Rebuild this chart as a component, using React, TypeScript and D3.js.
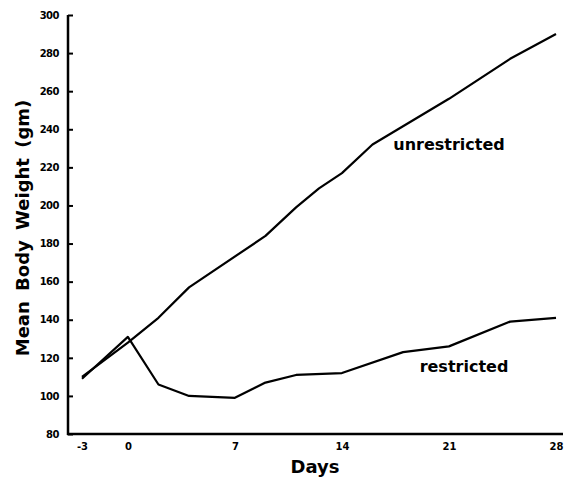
import React, { useEffect, useRef } from 'react'
import * as d3 from 'd3'

// values
const unrestrictedDays = [-3, 0, 2, 4, 9, 11, 12.5, 14, 16, 21, 25, 28]
const unrestrictedWeight = [110, 128, 141, 157, 184, 199, 209, 217, 232, 256, 277, 290]
const restrictedDays = [-3, 0, 2, 4, 7, 9, 11, 14, 18, 21, 25, 28]
const restrictedWeight = [109, 131, 106, 100, 99, 107, 111, 112, 123, 126, 139, 141]
const xTicks = [-3, 0, 7, 14, 21, 28]
const yTicks = [80, 100, 120, 140, 160, 180, 200, 220, 240, 260, 280, 300]

const W = 564
const H = 480
const font = '"DejaVu Sans", sans-serif'

export default function App() {
  const ref = useRef<SVGSVGElement>(null)

  useEffect(() => {
    const svg = d3.select(ref.current)
    svg.selectAll('*').remove()

    const x = d3.scaleLinear().domain([-3, 28]).range([82, 556])
    const y = d3.scaleLinear().domain([80, 300]).range([434, 15])

    const axisX0 = 68

    // axes lines
    svg.append('line')
      .attr('x1', axisX0).attr('x2', axisX0)
      .attr('y1', y(300)).attr('y2', y(80) + 1)
      .attr('stroke', '#000').attr('stroke-width', 2.5)
    svg.append('line')
      .attr('x1', axisX0 - 1).attr('x2', 563)
      .attr('y1', y(80)).attr('y2', y(80))
      .attr('stroke', '#000').attr('stroke-width', 2.5)

    const gy = svg.append('g')
      .attr('transform', `translate(${axisX0},0)`)
      .call(d3.axisLeft(y).tickValues(yTicks).tickSizeInner(-5).tickSizeOuter(0).tickPadding(9))
    gy.select('.domain').remove()
    gy.selectAll('line').attr('stroke', '#000').attr('stroke-width', 2)
    gy.selectAll('text')
      .attr('font-family', font).attr('font-size', 10).attr('font-weight', 'bold')
      .attr('fill', '#000').attr('letter-spacing', -0.5)

    const gx = svg.append('g')
      .attr('transform', `translate(0,${y(80)})`)
      .call(d3.axisBottom(x).tickValues(xTicks).tickFormat(d => String(d)).tickSize(0).tickPadding(9))
    gx.select('.domain').remove()
    gx.selectAll('text')
      .attr('font-family', font).attr('font-size', 10).attr('font-weight', 'bold')
      .attr('fill', '#000')

    const line = d3.line<[number, number]>()
      .x(d => x(d[0]))
      .y(d => y(d[1]))

    const series = [
      d3.zip(unrestrictedDays, unrestrictedWeight) as [number, number][],
      d3.zip(restrictedDays, restrictedWeight) as [number, number][],
    ]
    svg.selectAll('path.series')
      .data(series)
      .enter()
      .append('path')
        .attr('class', 'series')
        .attr('d', d => line(d))
        .attr('fill', 'none')
        .attr('stroke', '#000')
        .attr('stroke-width', 2.2)
        .attr('stroke-linejoin', 'round')

    svg.append('text')
      .attr('x', 449).attr('y', 150)
      .attr('text-anchor', 'middle')
      .attr('font-family', font).attr('font-size', 16).attr('font-weight', 'bold')
      .text('unrestricted')
    svg.append('text')
      .attr('x', 464).attr('y', 372)
      .attr('text-anchor', 'middle')
      .attr('font-family', font).attr('font-size', 16).attr('font-weight', 'bold')
      .text('restricted')

    svg.append('text')
      .attr('x', 315).attr('y', 473)
      .attr('text-anchor', 'middle')
      .attr('font-family', font).attr('font-size', 18).attr('font-weight', 'bold')
      .text('Days')
    svg.append('text')
      .attr('transform', 'translate(29,228) rotate(-90)')
      .attr('text-anchor', 'middle')
      .attr('font-family', font).attr('font-size', 18).attr('font-weight', 'bold')
      .attr('word-spacing', 4)
      .text('Mean Body Weight (gm)')
  }, [])

  return (
    <svg ref={ref} width={W} height={H}
      style={{ position: 'absolute', left: 0, top: 0, background: '#fff' }} />
  )
}
